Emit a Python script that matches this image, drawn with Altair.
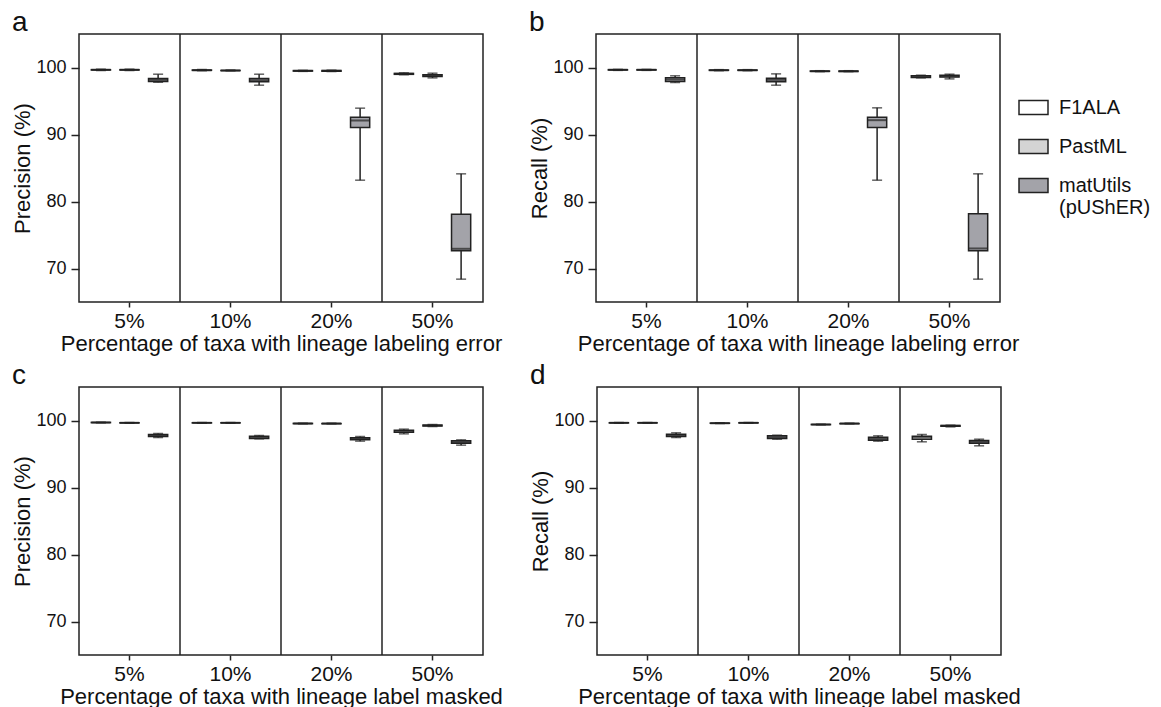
import altair as alt
import pandas as pd

PCTS = ["5%", "10%", "20%", "50%"]
METHODS = ["F1ALA", "PastML", "matUtils (pUShER)"]
COLORS = ["#ffffff", "#d4d4d4", "#a3a3a9"]
YTICKS = [70, 80, 90, 100]

# values ordered per pct group: F1ALA, PastML, matUtils
# panel a: precision, lineage labeling error
A_MIN = [99.55, 99.55, 97.80, 99.52, 99.50, 97.36, 99.42, 99.40, 83.18, 98.92, 98.45, 68.41]
A_Q1 = [99.62, 99.62, 97.90, 99.57, 99.53, 97.86, 99.46, 99.44, 91.04, 98.98, 98.65, 72.64]
A_MED = [99.65, 99.65, 98.16, 99.60, 99.55, 98.10, 99.50, 99.50, 92.09, 99.05, 98.80, 72.94]
A_Q3 = [99.68, 99.68, 98.36, 99.63, 99.57, 98.36, 99.54, 99.56, 92.59, 99.12, 98.90, 78.11]
A_MAX = [99.75, 99.75, 99.00, 99.70, 99.62, 99.00, 99.58, 99.60, 93.93, 99.20, 99.15, 84.13]

# panel b: recall, lineage labeling error
B_MIN = [99.57, 99.57, 97.76, 99.52, 99.52, 97.36, 99.38, 99.38, 83.18, 98.45, 98.30, 68.41]
B_Q1 = [99.62, 99.62, 97.91, 99.57, 99.57, 97.86, 99.42, 99.42, 91.04, 98.52, 98.60, 72.64]
B_MED = [99.65, 99.65, 98.21, 99.60, 99.60, 98.16, 99.45, 99.45, 92.14, 98.66, 98.70, 72.99]
B_Q3 = [99.68, 99.68, 98.46, 99.63, 99.63, 98.41, 99.48, 99.48, 92.59, 98.78, 98.84, 78.16]
B_MAX = [99.72, 99.72, 98.76, 99.68, 99.68, 99.05, 99.52, 99.52, 93.98, 98.85, 99.00, 84.13]

# panel c: precision, lineage label masked
C_MIN = [99.65, 99.60, 97.46, 99.60, 99.60, 97.26, 99.50, 99.50, 96.92, 98.01, 99.10, 96.32]
C_Q1 = [99.68, 99.63, 97.61, 99.63, 99.63, 97.31, 99.53, 99.53, 97.11, 98.26, 99.18, 96.62]
C_MED = [99.70, 99.65, 97.76, 99.65, 99.65, 97.51, 99.55, 99.55, 97.26, 98.41, 99.25, 96.77]
C_Q3 = [99.72, 99.67, 97.91, 99.67, 99.67, 97.66, 99.57, 99.57, 97.41, 98.56, 99.32, 96.97]
C_MAX = [99.75, 99.70, 98.06, 99.70, 99.70, 97.76, 99.60, 99.60, 97.61, 98.71, 99.40, 97.11]

# panel d: recall, lineage label masked
D_MIN = [99.60, 99.60, 97.46, 99.55, 99.60, 97.21, 99.35, 99.50, 96.92, 96.82, 99.05, 96.22]
D_Q1 = [99.63, 99.63, 97.61, 99.58, 99.63, 97.31, 99.38, 99.53, 97.06, 97.21, 99.14, 96.62]
D_MED = [99.65, 99.65, 97.76, 99.60, 99.65, 97.51, 99.40, 99.55, 97.26, 97.46, 99.20, 96.82]
D_Q3 = [99.67, 99.67, 97.96, 99.62, 99.67, 97.71, 99.42, 99.57, 97.51, 97.66, 99.26, 97.01]
D_MAX = [99.70, 99.70, 98.16, 99.65, 99.70, 97.81, 99.45, 99.60, 97.71, 97.91, 99.30, 97.21]

FONT = "Liberation Sans"
INK = "#222222"

LEGEND = alt.Legend(
    title=None, orient="none", legendX=939, legendY=58, padding=0,
    symbolType="M-1,-0.48L1,-0.48L1,0.48L-1,0.48Z", symbolSize=841,
    symbolStrokeColor=INK, symbolStrokeWidth=1.5,
    labelFontSize=20, labelFont=FONT, labelColor="#111", labelOffset=10,
    rowPadding=13, labelLimit=0,
    labelExpr="datum.label == 'matUtils (pUShER)' ? ['matUtils', '(pUShER)'] : datum.label",
)


def frame(mn, q1, med, q3, mx):
    rows = []
    i = 0
    for p in PCTS:
        for m in METHODS:
            rows.append(dict(pct=p, method=m, lo=mn[i], q1=q1[i], med=med[i], q3=q3[i], hi=mx[i]))
            i += 1
    return pd.DataFrame(rows)


def panel(df, ytitle, xtitle, letter):
    def xenc(**kw):
        return alt.X("pct:N", sort=PCTS,
                     scale=alt.Scale(domain=PCTS, paddingInner=0, paddingOuter=0),
                     axis=alt.Axis(title=xtitle), **kw)

    xo = alt.XOffset("method:N", sort=METHODS,
                     scale=alt.Scale(domain=METHODS, paddingInner=0.33, paddingOuter=0.43))

    def yenc(field):
        return alt.Y(field, type="quantitative",
                     scale=alt.Scale(domain=[65, 105], nice=False, zero=False),
                     axis=alt.Axis(title=ytitle, values=YTICKS))

    fill = alt.Fill("method:N", sort=METHODS,
                    scale=alt.Scale(domain=METHODS, range=COLORS), legend=LEGEND)

    base = alt.Chart(df)
    seps = alt.Chart(pd.DataFrame({"pct": PCTS[1:]})).mark_rule(
        color=INK, strokeWidth=1.5).encode(x=xenc(bandPosition=0))
    whisk = base.mark_rule(color=INK, strokeWidth=1.5).encode(
        x=xenc(), xOffset=xo, y=yenc("lo"), y2="hi")
    box = base.mark_bar(stroke=INK, strokeWidth=1.5).encode(
        x=xenc(), xOffset=xo, y=yenc("q1"), y2="q3", fill=fill)
    med = base.mark_tick(color=INK, thickness=2, size=19).encode(
        x=xenc(), xOffset=xo, y=yenc("med"))
    caplo = base.mark_tick(color=INK, thickness=1.5, size=10).encode(
        x=xenc(), xOffset=xo, y=yenc("lo"))
    caphi = base.mark_tick(color=INK, thickness=1.5, size=10).encode(
        x=xenc(), xOffset=xo, y=yenc("hi"))

    return alt.layer(seps, whisk, box, med, caplo, caphi).properties(
        width=404, height=268,
        title=alt.TitleParams(letter, anchor="start", frame="bounds", fontSize=28,
                              font=FONT, fontWeight="normal", color="#111",
                              offset=0, dy=4),
    )


XT1 = "Percentage of taxa with lineage labeling error"
XT2 = "Percentage of taxa with lineage label masked"

pa = panel(frame(A_MIN, A_Q1, A_MED, A_Q3, A_MAX), "Precision (%)", XT1, "a")
pb = panel(frame(B_MIN, B_Q1, B_MED, B_Q3, B_MAX), "Recall (%)", XT1, "b")
pc = panel(frame(C_MIN, C_Q1, C_MED, C_Q3, C_MAX), "Precision (%)", XT2, "c")
pd_ = panel(frame(D_MIN, D_Q1, D_MED, D_Q3, D_MAX), "Recall (%)", XT2, "d")

top = alt.hconcat(pa, pb, spacing=25)
bottom = alt.hconcat(pc, pd_, spacing=25)

chart = alt.vconcat(top, bottom, spacing=6).properties(
    padding={"left": 3, "top": 0, "right": 0, "bottom": 0}
).configure_view(
    stroke=INK, strokeWidth=1.5
).configure_axis(
    labelFont=FONT, titleFont=FONT, domain=False, grid=False,
    tickColor=INK, tickWidth=1.5, labelColor="#111", titleColor="#111",
    titleFontWeight="normal",
).configure_axisX(
    labelFontSize=21, tickSize=5, labelPadding=3, titleFontSize=22, titlePadding=2, labelAngle=0
).configure_axisY(
    labelFontSize=18, tickSize=8, labelPadding=5, titleFontSize=22, titlePadding=1
)

chart.save("out.html", embed_options={"renderer": "svg", "actions": False})
